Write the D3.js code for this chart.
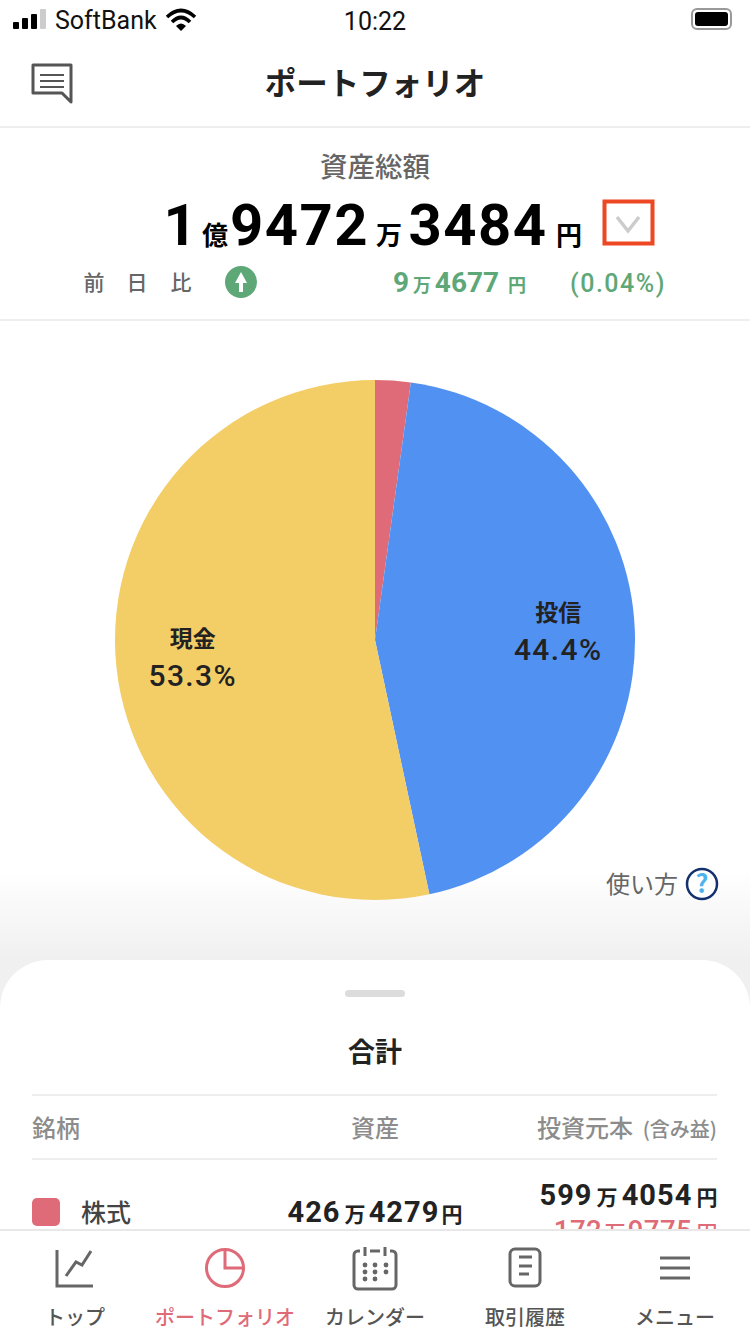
<!DOCTYPE html>
<html>
<head>
<meta charset="utf-8">
<script src="https://cdnjs.cloudflare.com/ajax/libs/d3/7.8.5/d3.min.js"></script>
<style>
html, body { margin: 0; padding: 0; background: #fff; }
svg { display: block; }
text { font-family: "Noto Sans CJK JP", "Noto Sans", sans-serif; }
</style>
</head>
<body>
<svg id="chart" width="750" height="1334"></svg>
<script>
var categories = ['株式', '投信', '現金'];
var shares = [2.2, 44.4, 53.3];
var shareLabels = ['', '44.4%', '53.3%'];
var colors = ['#df6b78', '#5191f2', '#f3cd66'];
var tabLabels = ['トップ', 'ポートフォリオ', 'カレンダー', '取引履歴', 'メニュー'];

var svg = d3.select('#chart');
var defs = svg.append('defs');
var fade = defs.append('linearGradient').attr('id', 'fade').attr('x1', 0).attr('x2', 0).attr('y1', 0).attr('y2', 1);
fade.append('stop').attr('offset', 0).attr('stop-color', '#fff');
fade.append('stop').attr('offset', 1).attr('stop-color', '#f0f0f0');

var label = function(x, y, str, size, color, weight, anchor) {
  return svg.append('text').attr('x', x).attr('y', y).text(str)
    .attr('font-size', size).attr('fill', color)
    .attr('font-weight', weight || 400).attr('text-anchor', anchor || 'middle');
};
var latin = function(sel, spacing) {
  return sel.style('font-family', 'Roboto').style('letter-spacing', (spacing || 0) + 'px');
};
// amounts mix latin digits and small kanji units
var amount = function(parts, y, digitSize, unitSize, color, weight, spacing) {
  parts.forEach(function(d) {
    var isDigit = /\d/.test(d[1]);
    var t = label(d[0], y, d[1], isDigit ? digitSize : unitSize, color, weight);
    if (isDigit) latin(t, spacing);
  });
};
var hline = function(x1, x2, y, color, w) {
  svg.append('line').attr('x1', x1).attr('x2', x2).attr('y1', y).attr('y2', y)
    .attr('stroke', color).attr('stroke-width', w || 2);
};

// status bar
[[13, 7], [22, 11], [31, 15]].forEach(function(b) {
  svg.append('rect').attr('x', b[0]).attr('y', 29 - b[1]).attr('width', 6).attr('height', b[1]).attr('rx', 1).attr('fill', '#000');
});
svg.append('rect').attr('x', 40).attr('y', 9).attr('width', 6).attr('height', 20).attr('rx', 1).attr('fill', '#ccc');
latin(label(55, 29, 'SoftBank', 25, '#111', 400, 'start'));
var wifi = svg.append('g').attr('fill', 'none').attr('stroke', '#000').attr('stroke-width', 3.6);
wifi.append('path').attr('d', 'M167,17 Q181,4 195,17');
wifi.append('path').attr('d', 'M172,22 Q181,13 190,22');
svg.append('path').attr('d', 'M176,26 Q181,21 186,26 L181,31 Z').attr('fill', '#000');
latin(label(375, 30, '10:22', 25, '#111', 400));
svg.append('rect').attr('x', 692).attr('y', 9).attr('width', 39).attr('height', 20).attr('rx', 5).attr('fill', 'none').attr('stroke', '#999').attr('stroke-width', 2);
svg.append('rect').attr('x', 695).attr('y', 12).attr('width', 33).attr('height', 14).attr('rx', 3).attr('fill', '#000');

// header
svg.append('path').attr('d', 'M33,65 H71 V102 L62,93 H33 Z').attr('fill', 'none').attr('stroke', '#555').attr('stroke-width', 3).attr('stroke-linejoin', 'round');
[75, 81, 87].forEach(function(y) {
  svg.append('line').attr('x1', 40).attr('x2', 64).attr('y1', y).attr('y2', y).attr('stroke', '#555').attr('stroke-width', 2);
});
label(375, 95, 'ポートフォリオ', 31.5, '#222', 700);
hline(0, 750, 127, '#eeeeee', 2);

// total
label(375, 177, '資産総額', 27.5, '#666', 500);
amount([[181, '1'], [215, '億'], [299.5, '9472'], [389, '万'], [478, '3484'], [569, '円']], 245, 58, 26, '#000', 700, 1.5);
svg.append('rect').attr('x', 604.5).attr('y', 201.5).attr('width', 48).attr('height', 42).attr('fill', 'none').attr('stroke', '#ee4723').attr('stroke-width', 4);
svg.append('path').attr('d', 'M617,217 L628,231 L639,217').attr('fill', 'none').attr('stroke', '#ccc').attr('stroke-width', 3.5);

[[94, '前'], [137, '日'], [181, '比']].forEach(function(d) {
  label(d[0], 290, d[1], 21, '#666', 500);
});
svg.append('circle').attr('cx', 241).attr('cy', 282).attr('r', 16).attr('fill', '#5ea777');
svg.append('path').attr('d', 'M241,272 L247,283 H243 V292 H239 V283 H235 Z').attr('fill', '#fff');
amount([[401, '9'], [422, '万'], [467, '4677'], [517, '円']], 292, 28, 18, '#5ea777', 700, 0);
latin(label(618, 292, '(0.04%)', 25, '#5ea777', 500), 1.5);
hline(0, 750, 320, '#eeeeee', 2);

// fade behind the sheet
svg.append('rect').attr('x', 0).attr('y', 870).attr('width', 750).attr('height', 90).attr('fill', 'url(#fade)');
svg.append('rect').attr('x', 0).attr('y', 960).attr('width', 750).attr('height', 60).attr('fill', '#f0f0f0');

// pie
var pie = d3.pie().sort(null).value(function(d) { return d; });
var arcs = pie(shares);
var radius = 260;
var arc = d3.arc().innerRadius(0).outerRadius(radius);
var labelArc = d3.arc().innerRadius(radius * 0.705).outerRadius(radius * 0.705);
var pieG = svg.append('g').attr('transform', 'translate(375,640)');
pieG.selectAll('path').data(arcs).enter().append('path')
  .attr('d', arc)
  .attr('fill', function(d, i) { return colors[i]; });
var pieLabels = pieG.selectAll('g').data(arcs).enter().append('g')
  .filter(function(d, i) { return shareLabels[i] !== ''; })
  .attr('transform', function(d) {
    var c = labelArc.centroid(d);
    return 'translate(' + c + ')';
  });
pieLabels.append('text').attr('text-anchor', 'middle').attr('y', -12)
  .attr('font-size', 23).attr('font-weight', 700).attr('fill', '#222')
  .text(function(d) { return categories[d.index]; });
pieLabels.append('text').attr('text-anchor', 'middle').attr('y', 27)
  .attr('font-size', 30).attr('font-weight', 500).attr('fill', '#222')
  .style('font-family', 'Roboto').style('letter-spacing', '1.4px')
  .text(function(d) { return shareLabels[d.index]; });

// help
label(642, 893, '使い方', 24, '#666', 400);
svg.append('circle').attr('cx', 702).attr('cy', 884).attr('r', 15).attr('fill', '#fff').attr('stroke', '#14306e').attr('stroke-width', 2.5);
label(702, 893, '?', 25, '#4cb2ee', 700);

// bottom sheet
svg.append('rect').attr('x', 0).attr('y', 960).attr('width', 750).attr('height', 400).attr('rx', 48).attr('fill', '#fff');
svg.append('rect').attr('x', 345).attr('y', 990).attr('width', 60).attr('height', 7).attr('rx', 3.5).attr('fill', '#dcdcdc');
label(375, 1062, '合計', 27, '#222', 700);
hline(32, 717, 1095, '#eeeeee', 2);
label(32, 1137, '銘柄', 24, '#8c8c8c', 500, 'start');
label(375, 1137, '資産', 24, '#8c8c8c', 500);
label(633, 1137, '投資元本', 24, '#8c8c8c', 500, 'end');
label(717, 1137, '(含み益)', 20, '#8c8c8c', 500, 'end');
hline(32, 717, 1159, '#eeeeee', 2);

svg.append('rect').attr('x', 32).attr('y', 1198).attr('width', 28).attr('height', 28).attr('rx', 5).attr('fill', colors[0]);
label(81, 1222, categories[0], 25, '#444', 500, 'start');
amount([[314, '426'], [355, '万'], [404, '4279'], [452, '円']], 1222, 29, 21, '#222', 700, 1);
amount([[566, '599'], [607, '万'], [657, '4054'], [707, '円']], 1205, 29, 21, '#222', 700, 1);
amount([[578, '172'], [615, '万'], [660, '9775'], [707, '円']], 1240, 27.5, 21, colors[0], 500, 0.5);

// tab bar, drawn over the sheet so the last row gets cut off
svg.append('rect').attr('x', 0).attr('y', 1231).attr('width', 750).attr('height', 103).attr('fill', '#fff');
hline(0, 750, 1230, '#e8e8e8', 2);
var tabX = [75, 225, 375, 525, 675];
svg.selectAll('.tab').data(tabLabels).enter().append('text').attr('class', 'tab')
  .attr('x', function(d, i) { return tabX[i]; }).attr('y', 1325)
  .attr('text-anchor', 'middle').attr('font-size', 20).attr('font-weight', 500)
  .attr('fill', function(d, i) { return i === 1 ? colors[0] : '#555'; })
  .text(function(d) { return d; });

var icon = svg.append('g').attr('fill', 'none').attr('stroke', '#666').attr('stroke-width', 3);
icon.append('path').attr('d', 'M57,1250 V1286 H93');
icon.append('path').attr('d', 'M66,1276 L76,1262 L82,1265 L91,1251');
var clock = svg.append('g').attr('fill', 'none').attr('stroke', colors[0]).attr('stroke-width', 3);
clock.append('circle').attr('cx', 225).attr('cy', 1268).attr('r', 18.5);
clock.append('path').attr('d', 'M225,1249 V1268 H244');
icon.append('rect').attr('x', 354).attr('y', 1251).attr('width', 42).attr('height', 38).attr('rx', 4);
svg.append('g').attr('fill', '#fff').selectAll('rect').data([365, 385]).enter().append('rect')
  .attr('x', function(d) { return d - 5; }).attr('y', 1248).attr('width', 10).attr('height', 6);
var pegs = svg.append('g').attr('fill', 'none').attr('stroke', '#666').attr('stroke-width', 3);
pegs.append('path').attr('d', 'M365,1247 V1256 M385,1247 V1256');
d3.cross([365, 375, 386], [1265, 1272, 1279]).forEach(function(p, i) {
  if (i === 8) return;
  svg.append('circle').attr('cx', p[0]).attr('cy', p[1]).attr('r', 2.4).attr('fill', '#666');
});
icon.append('rect').attr('x', 510).attr('y', 1249).attr('width', 30).attr('height', 37).attr('rx', 5);
[1257, 1266, 1274].forEach(function(y, i) {
  icon.append('line').attr('x1', 519).attr('x2', i === 2 ? 529 : 532).attr('y1', y).attr('y2', y);
});
[1258, 1268, 1278].forEach(function(y) {
  icon.append('line').attr('x1', 660).attr('x2', 690).attr('y1', y).attr('y2', y);
});
</script>
</body>
</html>
